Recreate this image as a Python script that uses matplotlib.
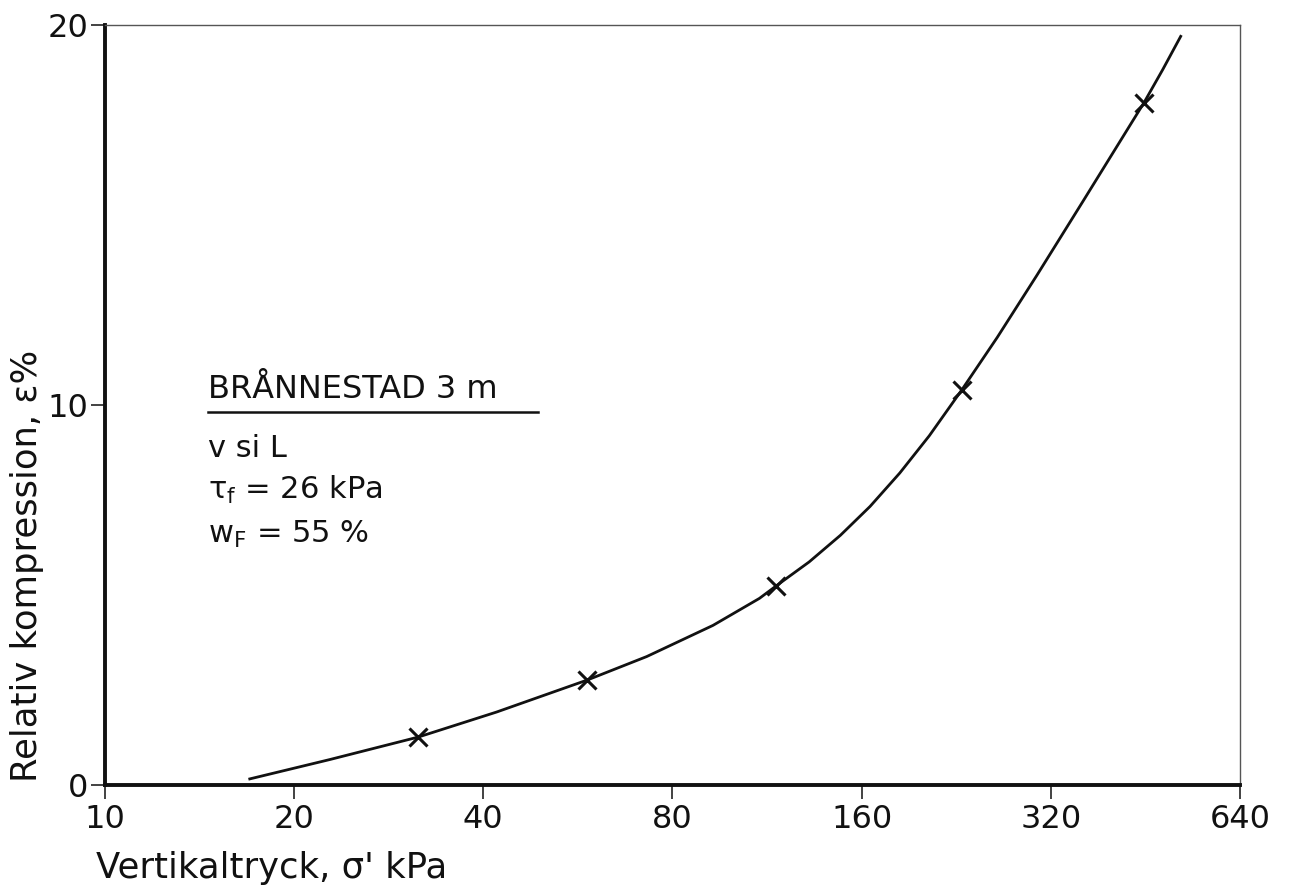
import matplotlib
matplotlib.use("Agg")
import matplotlib.pyplot as plt
from matplotlib.ticker import FixedLocator, NullLocator

plt.rcParams["font.family"] = ["DejaVu Sans"]
plt.rcParams["mathtext.default"] = "regular"

# oedometer curve (log2 pressure axis)
curve_p = [17.0, 22.8, 31.5, 42, 58.5, 72.8, 92.8, 110, 117, 132, 148, 165,
           184, 205, 231, 263, 304, 360, 450, 482, 515]
curve_eps = [0.16, 0.67, 1.26, 1.92, 2.76, 3.38, 4.20, 4.91, 5.24, 5.87, 6.57, 7.33,
             8.21, 9.19, 10.4, 11.78, 13.41, 15.36, 17.95, 18.82, 19.7]

# measured points (crosses)
meas_p = [31.5, 58.5, 117, 231, 450]
meas_eps = [1.26, 2.76, 5.24, 10.4, 17.95]

xticks = [10, 20, 40, 80, 160, 320, 640]
yticks = [0, 10, 20]

fig = plt.figure(figsize=(12.91, 8.88), dpi=100)
ax = fig.add_axes([0.0813, 0.1160, 0.8792, 0.8559])

ax.plot(curve_p, curve_eps, color="#111111", lw=2.0, solid_joinstyle="round")
ax.plot(meas_p, meas_eps, ls="none", marker="x", ms=13, mew=2.2, color="#111111")

ax.set_xscale("log", base=2)
ax.set_xlim(10, 640)
ax.set_ylim(0, 20)
ax.xaxis.set_major_locator(FixedLocator(xticks))
ax.xaxis.set_minor_locator(NullLocator())
ax.set_xticklabels([str(t) for t in xticks])
ax.set_yticks(yticks)
ax.set_yticklabels([str(t) for t in yticks])
ax.tick_params(axis="both", direction="out", length=10, width=1.2, labelsize=23,
               color="#222222", labelcolor="#111111")
ax.tick_params(axis="x", pad=4)
ax.tick_params(axis="y", pad=2)

for s in ("left", "bottom"):
    ax.spines[s].set_linewidth(2.8)
    ax.spines[s].set_color("#111111")
for s in ("top", "right"):
    ax.spines[s].set_linewidth(1.0)
    ax.spines[s].set_color("#555555")

# axis titles placed like the drawing
fig.text(96 / 1291, 1 - 878 / 888, "Vertikaltryck, σ' kPa", fontsize=25.5,
         ha="left", va="baseline", color="#111111")
fig.text(27 / 1291, 1 - 782 / 888, "Relativ kompression, ε%", fontsize=25.5,
         rotation=90, ha="center", va="bottom", color="#111111")

# legend block
tx = 0.0907
ax.text(tx, 0.509, "BRÅNNESTAD 3 m", transform=ax.transAxes, fontsize=23,
        va="baseline", ha="left", color="#111111")
ax.plot([tx, 0.3815], [0.491, 0.491], transform=ax.transAxes, color="#111111", lw=1.8)
ax.text(tx, 0.4316, "v si L", transform=ax.transAxes, fontsize=22,
        va="baseline", ha="left", color="#111111")
ax.text(tx, 0.376, r"$\tau_f$ = 26 kPa", transform=ax.transAxes, fontsize=22,
        va="baseline", ha="left", color="#111111")
ax.text(tx, 0.318, r"$w_F$ = 55 %", transform=ax.transAxes, fontsize=22,
        va="baseline", ha="left", color="#111111")

fig.savefig("out.png", dpi=100, facecolor="white")
